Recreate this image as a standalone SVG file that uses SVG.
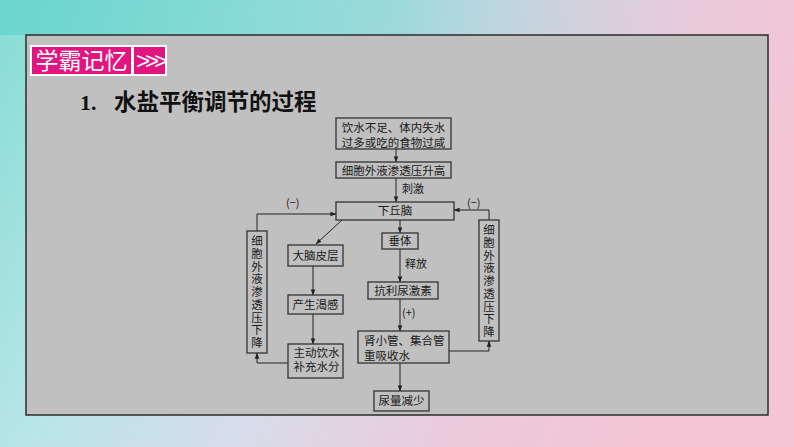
<svg xmlns="http://www.w3.org/2000/svg" width="794" height="447" viewBox="0 0 794 447">
<defs>
<linearGradient id="bg" x1="0" y1="0" x2="1" y2="0.3">
<stop offset="0" stop-color="#86dcd5"/>
<stop offset="0.3" stop-color="#b8e6e6"/>
<stop offset="0.55" stop-color="#d8dcea"/>
<stop offset="0.8" stop-color="#eccada"/>
<stop offset="1" stop-color="#f3c5d5"/>
</linearGradient>
<linearGradient id="topband" x1="0" y1="0" x2="1" y2="0">
<stop offset="0" stop-color="#5fd2cb" stop-opacity="0.7"/>
<stop offset="0.5" stop-color="#6ad3cd" stop-opacity="0.5"/>
<stop offset="1" stop-color="#e8c6d8" stop-opacity="0"/>
</linearGradient>
<marker id="ah" viewBox="0 0 8 8" refX="7.5" refY="4" markerWidth="6" markerHeight="6" orient="auto" markerUnits="userSpaceOnUse">
<path d="M0,1 L8,4 L0,7 Z" fill="#222"/>
</marker>
<style>
.box{fill:#c0c0c0;stroke:#333;stroke-width:1.3}
.t{font-family:"Noto Sans CJK SC","Liberation Serif",sans-serif;font-size:11.5px;fill:#1a1a1a}
.c{text-anchor:middle}
.vt{font-family:"Noto Sans CJK SC","Liberation Serif",sans-serif;font-size:11.5px;fill:#1a1a1a;text-anchor:middle}
.ln{fill:none;stroke:#222;stroke-width:1;marker-end:url(#ah)}
.lb{font-family:"Noto Sans CJK SC","Liberation Serif",sans-serif;font-size:11px;fill:#1a1a1a}
</style>
</defs>
<rect x="0" y="0" width="794" height="447" fill="url(#bg)"/>
<rect x="0" y="0" width="794" height="35" fill="url(#topband)"/>
<rect x="26" y="35" width="742" height="380" fill="#c0c0c0" stroke="#2b2b2b" stroke-width="1.5"/>

<g id="badge">
<rect x="30" y="45" width="137" height="31" fill="#ffffff"/>
<rect x="32" y="47" width="99" height="27" fill="#e0157f"/>
<rect x="134" y="47" width="31" height="27" fill="#e0157f"/>
<text x="81.5" y="68.5" text-anchor="middle" font-family="Noto Sans CJK SC, sans-serif" font-size="23" fill="#ffffff">学霸记忆</text>
<text x="149.5" y="68.5" text-anchor="middle" font-family="Liberation Sans, sans-serif" font-size="24" letter-spacing="-5" fill="#ffffff">&gt;&gt;&gt;</text>
</g>

<g id="title">
<text x="80" y="110" font-family="Liberation Serif, serif" font-size="22" font-weight="bold" fill="#111">1.</text>
<text x="114" y="110" font-family="Noto Sans CJK SC, sans-serif" font-size="22.5" font-weight="bold" fill="#111">水盐平衡调节的过程</text>
</g>

<g id="connectors">
<line class="ln" x1="396" y1="149" x2="396" y2="162"/>
<line class="ln" x1="396" y1="178" x2="396" y2="202"/>
<line class="ln" x1="400" y1="220" x2="400" y2="233"/>
<line class="ln" x1="342" y1="220" x2="316" y2="244"/>
<line class="ln" x1="313" y1="266" x2="313" y2="295"/>
<line class="ln" x1="313" y1="314" x2="313" y2="344"/>
<path class="ln" d="M288,363 H257 V353"/>
<path class="ln" d="M257,231 V214 H336"/>
<line class="ln" x1="400" y1="249" x2="400" y2="282"/>
<line class="ln" x1="400" y1="299" x2="400" y2="331"/>
<path class="ln" d="M449,351 H489 V341"/>
<path class="ln" d="M489,220 V210 H454"/>
<line class="ln" x1="400" y1="363" x2="400" y2="391"/>
<text class="lb" x="402" y="193">刺激</text>
<text class="lb" x="405" y="268">释放</text>
<text class="lb" x="402" y="317" font-family="Liberation Serif, serif">(+)</text>
<text class="lb" x="286" y="207" font-family="Liberation Serif, serif">(−)</text>
<text class="lb" x="467" y="207" font-family="Liberation Serif, serif">(−)</text>
</g>

<g id="n1">
<rect class="box" x="336" y="118" width="115" height="31"/>
<text class="t c"><tspan x="393.5" y="132">饮水不足、体内失水</tspan><tspan x="393.5" y="146.5">过多或吃的食物过咸</tspan></text>
</g>
<g id="n2">
<rect class="box" x="336" y="162" width="115" height="16"/>
<text class="t c" x="393.5" y="174.5">细胞外液渗透压升高</text>
</g>
<g id="n3">
<rect class="box" x="336" y="202" width="118" height="18"/>
<text class="t c" x="395" y="215">下丘脑</text>
</g>
<g id="n4">
<rect class="box" x="382" y="233" width="36" height="16"/>
<text class="t c" x="400" y="245">垂体</text>
</g>
<g id="n5">
<rect class="box" x="288" y="245" width="55" height="21"/>
<text class="t c" x="315.5" y="259.5">大脑皮层</text>
</g>
<g id="n6">
<rect class="box" x="288" y="295" width="55" height="19"/>
<text class="t c" x="315.5" y="308.5">产生渴感</text>
</g>
<g id="n7">
<rect class="box" x="288" y="344" width="55" height="34"/>
<text class="t c"><tspan x="316.5" y="356.5">主动饮水</tspan><tspan x="316.5" y="371">补充水分</tspan></text>
</g>
<g id="n8">
<rect class="box" x="368" y="282" width="70" height="17"/>
<text class="t c" x="403" y="295">抗利尿激素</text>
</g>
<g id="n9">
<rect class="box" x="358" y="331" width="91" height="32"/>
<text class="t"><tspan x="364" y="345">肾小管、集合管</tspan><tspan x="364" y="359.5">重吸收水</tspan></text>
</g>
<g id="n10">
<rect class="box" x="374" y="391" width="55" height="20"/>
<text class="t c" x="401.5" y="405">尿量减少</text>
</g>
<g id="n11">
<rect class="box" x="247" y="231" width="20" height="122"/>
<text class="vt"><tspan x="257" y="245">细</tspan><tspan x="257" y="257.75">胞</tspan><tspan x="257" y="270.5">外</tspan><tspan x="257" y="283.25">液</tspan><tspan x="257" y="296">渗</tspan><tspan x="257" y="308.75">透</tspan><tspan x="257" y="321.5">压</tspan><tspan x="257" y="334.25">下</tspan><tspan x="257" y="347">降</tspan></text>
</g>
<g id="n12">
<rect class="box" x="479" y="220" width="20" height="121"/>
<text class="vt"><tspan x="489" y="234">细</tspan><tspan x="489" y="246.75">胞</tspan><tspan x="489" y="259.5">外</tspan><tspan x="489" y="272.25">液</tspan><tspan x="489" y="285">渗</tspan><tspan x="489" y="297.75">透</tspan><tspan x="489" y="310.5">压</tspan><tspan x="489" y="323.25">下</tspan><tspan x="489" y="336">降</tspan></text>
</g>
</svg>
